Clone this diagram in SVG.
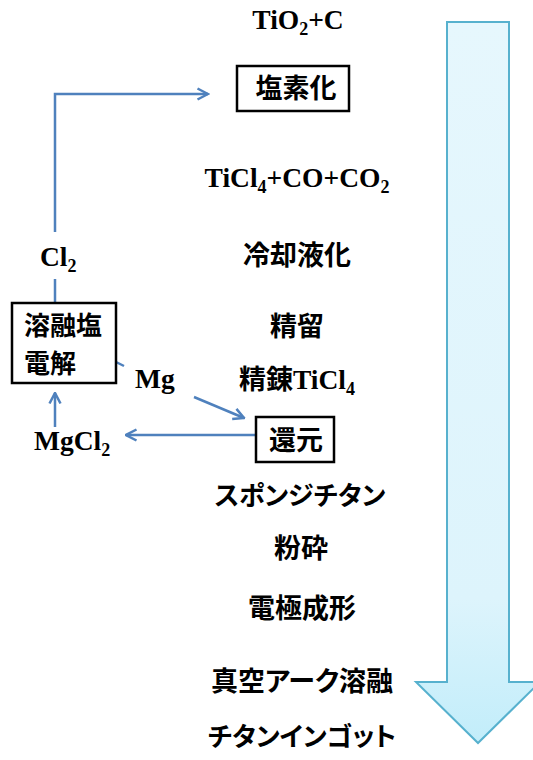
<svg xmlns="http://www.w3.org/2000/svg" width="533" height="760" viewBox="0 0 533 760">
<style>
.lat{font-family:"Liberation Serif","Times New Roman",serif;font-weight:bold;font-size:27.5px;fill:#000}
.jp{font-family:"Noto Sans CJK JP","Noto Sans CJK SC",sans-serif;font-weight:bold;font-size:27px;fill:#000;font-feature-settings:"palt"}
.kana{font-size:26px}
.box{fill:#fff;stroke:#000;stroke-width:2.5}
.con{fill:none;stroke:#4F81BD;stroke-width:2.5}
.sub{font-size:18px}
</style>
<defs>
<linearGradient id="ag" x1="0" y1="0" x2="0" y2="1">
<stop offset="0" stop-color="#E6F7FD"/>
<stop offset="0.8" stop-color="#DDF4FC"/>
<stop offset="1" stop-color="#C2EDFA"/>
</linearGradient>
<marker id="ah" viewBox="0 0 14 14" refX="12.5" refY="7" markerWidth="14" markerHeight="14" markerUnits="userSpaceOnUse" orient="auto">
<path d="M2,1.5 L12.5,7 L2,12.5" fill="none" stroke="#4F81BD" stroke-width="2.5"/>
</marker>
</defs>
<rect width="533" height="760" fill="#fff"/>
<g id="bigArrow">
<path d="M447,22 L509,22 L509,682 L540,682 L478,743 L416,682 L447,682 Z" fill="url(#ag)" stroke="#57B1CE" stroke-width="2"/>
</g>
<g id="connectors">
<path class="con" d="M55,232 L55,94 L208,94" marker-end="url(#ah)"/>
<path class="con" d="M55,279 L55,303"/>
<path class="con" d="M116,362 L124,366"/>
<path class="con" d="M194,397 L244,418" marker-end="url(#ah)"/>
<path class="con" d="M255,435 L126,435" marker-end="url(#ah)"/>
<path class="con" d="M55,427 L55,393" marker-end="url(#ah)"/>
</g>
<g id="n-tio2"><text class="lat" x="298" y="29" text-anchor="middle">TiO<tspan class="sub" dy="6">2</tspan><tspan dy="-6">+C</tspan></text></g>
<g id="n-chlorination"><rect class="box" x="237" y="66" width="112" height="45"/><text class="jp" x="296" y="98" text-anchor="middle">塩素化</text></g>
<g id="n-ticl4mix"><text class="lat" x="297" y="187" text-anchor="middle">TiCl<tspan class="sub" dy="6">4</tspan><tspan dy="-6">+CO+CO</tspan><tspan class="sub" dy="6">2</tspan></text></g>
<g id="n-cooling"><text class="jp" x="297" y="265" text-anchor="middle">冷却液化</text></g>
<g id="n-distill"><text class="jp" x="297" y="336" text-anchor="middle">精留</text></g>
<g id="n-pureticl4"><text class="jp" x="297" y="389" text-anchor="middle">精錬<tspan class="lat">TiCl</tspan><tspan class="lat sub" dy="6">4</tspan></text></g>
<g id="n-reduction"><rect class="box" x="256" y="417" width="78" height="45"/><text class="jp" x="296" y="450" text-anchor="middle">還元</text></g>
<g id="n-sponge"><text class="jp kana" x="300" y="505" text-anchor="middle">スポンジチタン</text></g>
<g id="n-crush"><text class="jp" x="301" y="558" text-anchor="middle">粉砕</text></g>
<g id="n-electrode"><text class="jp" x="302" y="618" text-anchor="middle">電極成形</text></g>
<g id="n-var"><text class="jp" x="302" y="691" text-anchor="middle">真空アーク溶融</text></g>
<g id="n-ingot"><text class="jp kana" x="302" y="746" text-anchor="middle">チタンインゴット</text></g>
<g id="n-electrolysis"><rect class="box" x="12" y="303" width="104" height="80"/><text class="jp" x="24" y="335" style="font-size:26px">溶融塩</text><text class="jp" x="24" y="373" style="font-size:26px">電解</text></g>
<g id="l-cl2"><text class="lat" x="40" y="266">Cl<tspan class="sub" dy="6">2</tspan></text></g>
<g id="l-mg"><text class="lat" x="135" y="388">Mg</text></g>
<g id="l-mgcl2"><text class="lat" x="34" y="450">MgCl<tspan class="sub" dy="6">2</tspan></text></g>
</svg>
